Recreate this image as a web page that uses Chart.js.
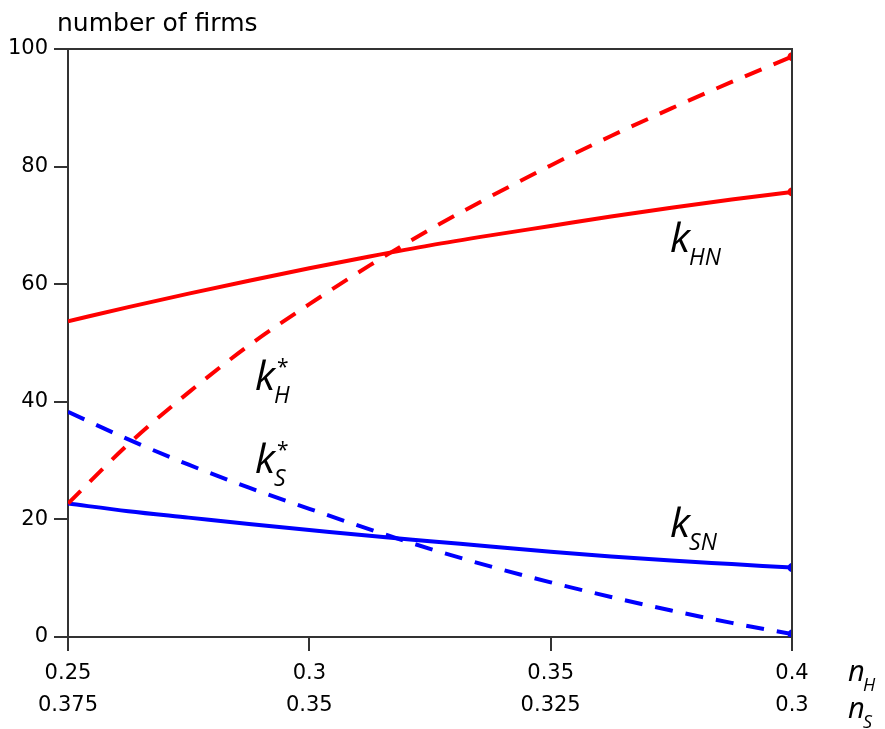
<!DOCTYPE html>
<html>
<head>
<meta charset="utf-8">
<script src="https://cdn.jsdelivr.net/npm/chart.js@4.4.1/dist/chart.umd.min.js"></script>
<style>
    html, body { margin: 0; padding: 0; background: #fff; }
    #wrap { width: 885px; height: 729px; }
</style>
</head>
<body>
<div id="wrap"><canvas id="myChart"></canvas></div>
<script>
// n_H along the bottom axis
const nH = [0.25, 0.2625, 0.275, 0.2875, 0.3, 0.3125, 0.325, 0.3375, 0.35, 0.3625, 0.375, 0.3875, 0.4];

// number of firms
const kHN    = [53.7, 56.1, 58.4, 60.6, 62.7, 64.7, 66.6, 68.3, 69.9, 71.5, 73.0, 74.4, 75.7];
const kHStar = [22.7, 32.8, 41.6, 49.6, 56.6, 63.2, 69.3, 74.9, 80.2, 85.2, 89.9, 94.4, 98.7];
const kSN    = [22.7, 21.4, 20.3, 19.2, 18.2, 17.2, 16.3, 15.4, 14.5, 13.7, 13.0, 12.4, 11.8];
const kSStar = [38.3, 33.6, 29.3, 25.4, 21.8, 18.3, 15.0, 12.0, 9.3, 6.8, 4.5, 2.4, 0.5];

// tick labels
const nHTickValues = [0.25, 0.3, 0.35, 0.4];
const nHTickLabels = ['0.25', '0.3', '0.35', '0.4'];
const nSTickLabels = ['0.375', '0.35', '0.325', '0.3'];

const axisColor = '#333';
const textFont = '"DejaVu Sans", sans-serif';
const mathFont = '"Open Sans", sans-serif';

function pts(ys) {
    return nH.map((x, i) => ({ x: x, y: ys[i] }));
}

// k with subscript (and star)
function drawK(ctx, x, y, sub, star) {
    ctx.fillStyle = '#000';
    ctx.textBaseline = 'alphabetic';
    ctx.textAlign = 'left';
    ctx.font = 'italic 41px ' + mathFont;
    ctx.fillText('k', x, y);
    const w = ctx.measureText('k').width;
    ctx.font = 'italic 23px ' + mathFont;
    ctx.fillText(sub, x + w - 1, y + 13);
    if (star) {
        ctx.font = '21px ' + mathFont;
        ctx.fillText('*', x + w + 2, y - 16);
    }
}

const frame = {
    id: 'frame',
    afterDraw(chart) {
        const ctx = chart.ctx;
        const a = chart.chartArea;
        ctx.save();
        ctx.strokeStyle = axisColor;
        ctx.lineWidth = 2;
        ctx.beginPath();
        ctx.moveTo(a.left, a.top);
        ctx.lineTo(a.right, a.top);
        ctx.lineTo(a.right, a.bottom);
        ctx.stroke();

        ctx.fillStyle = '#000';
        ctx.font = '25px ' + textFont;
        ctx.textAlign = 'left';
        ctx.textBaseline = 'alphabetic';
        ctx.fillText('number of firms', 57, 31);

        ctx.font = 'italic 29px ' + mathFont;
        ctx.fillText('n', 848, 681);
        ctx.fillText('n', 848, 718);
        ctx.font = 'italic 18px ' + mathFont;
        ctx.fillText('H', 863, 691);
        ctx.fillText('S', 863, 728);

        drawK(ctx, 670, 252, 'HN', false);
        drawK(ctx, 670, 537, 'SN', false);
        drawK(ctx, 255, 390, 'H', true);
        drawK(ctx, 255, 473, 'S', true);
        ctx.restore();
    }
};

const endDot = ctx => (ctx.dataIndex === nH.length - 1 ? 2.5 : 0);

const data = {
    datasets: [
        { label: 'kHN', data: pts(kHN), borderColor: '#ff0000', backgroundColor: '#ff0000', borderWidth: 4 },
        { label: 'kH*', data: pts(kHStar), borderColor: '#ff0000', backgroundColor: '#ff0000', borderWidth: 4, borderDash: [18, 13] },
        { label: 'kSN', data: pts(kSN), borderColor: '#0000ff', backgroundColor: '#0000ff', borderWidth: 4 },
        { label: 'kS*', data: pts(kSStar), borderColor: '#0000ff', backgroundColor: '#0000ff', borderWidth: 4, borderDash: [18, 13] }
    ]
};

const config = {
    type: 'line',
    data: data,
    options: {
        responsive: true,
        maintainAspectRatio: false,
        animation: false,
        events: [],
        layout: { padding: { top: 49, right: 93, left: 0, bottom: 0 } },
        elements: {
            point: { radius: endDot, borderWidth: 0 },
            line: { cubicInterpolationMode: 'monotone', fill: false, borderCapStyle: 'butt' }
        },
        plugins: {
            legend: { display: false },
            tooltip: { enabled: false }
        },
        scales: {
            x: {
                type: 'linear',
                min: 0.25,
                max: 0.4,
                afterBuildTicks: s => { s.ticks = nHTickValues.map(v => ({ value: v })); },
                afterFit: s => { s.height = 92; },
                border: { color: axisColor, width: 2 },
                grid: { drawOnChartArea: false, drawTicks: true, tickLength: 14, color: axisColor, lineWidth: 2 },
                ticks: {
                    color: '#000',
                    padding: 7,
                    maxRotation: 0,
                    autoSkip: false,
                    font: { family: textFont, size: 21, lineHeight: 1.5 },
                    callback: (v, i) => [nHTickLabels[i], nSTickLabels[i]]
                }
            },
            y: {
                min: 0,
                max: 100,
                afterFit: s => { s.width = 68; },
                border: { color: axisColor, width: 2 },
                grid: { drawOnChartArea: false, drawTicks: true, tickLength: 14, color: axisColor, lineWidth: 2 },
                ticks: {
                    stepSize: 20,
                    color: '#000',
                    padding: 6,
                    font: { family: textFont, size: 21 }
                }
            }
        }
    },
    plugins: [frame]
};

const myChart = new Chart(document.getElementById('myChart'), config);
</script>
</body>
</html>
